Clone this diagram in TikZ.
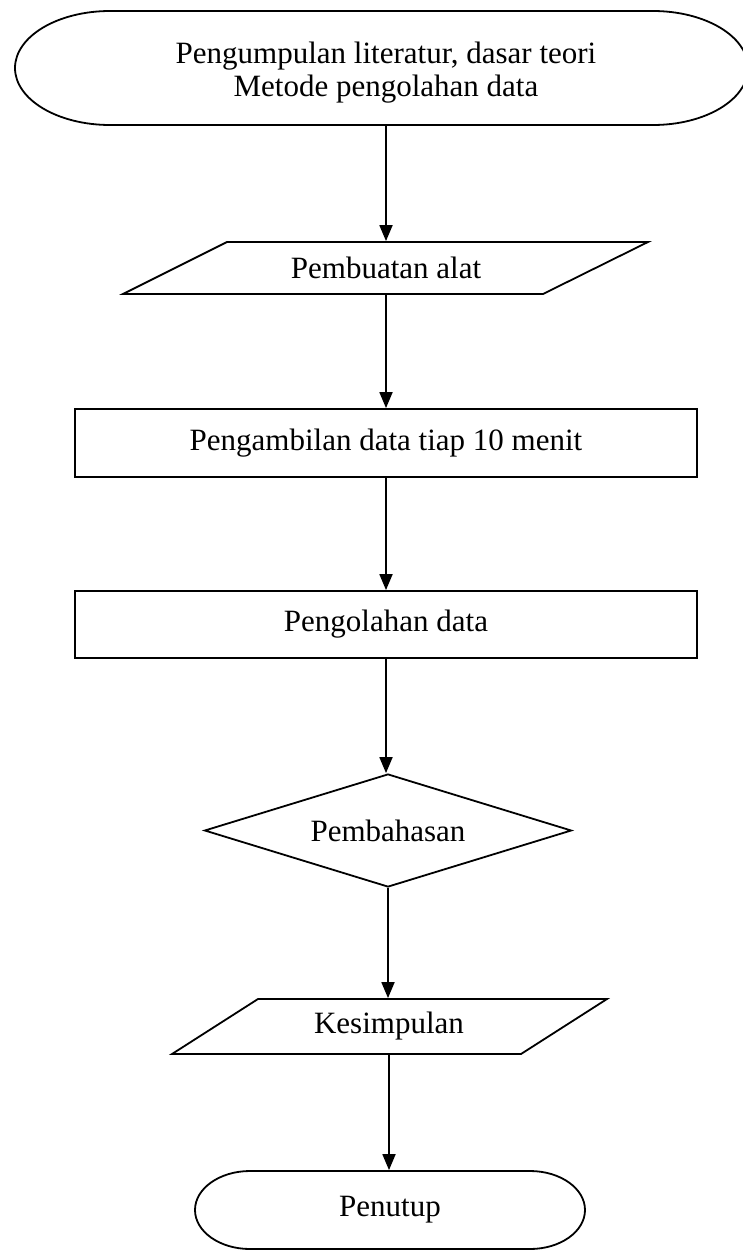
\documentclass[tikz,border=0pt]{standalone}
\usepackage{fontspec}
\setmainfont{Liberation Serif}
\usetikzlibrary{shapes.geometric,arrows.meta}

\begin{document}
\begin{tikzpicture}[x=1pt,y=1pt,
  line width=1.8pt,
  every node/.style={font=\fontsize{31}{33}\selectfont, inner sep=0pt},
  box/.style={draw, rectangle, minimum width=622pt, minimum height=67pt},
  ghost/.style={rectangle, align=center},
  decide/.style={draw, diamond, minimum width=367pt, minimum height=113pt, aspect=3.25},
  flow/.style={-{Triangle[length=16pt,width=13pt]}}
]
\useasboundingbox (0,0) rectangle (743,-1250);

% start terminal
\node[ghost, minimum width=733pt, minimum height=104pt] (start) at (386,-73)
  {Pengumpulan literatur, dasar teori\\Metode pengolahan data};
\draw (110,-11) -- (653,-11) arc[start angle=90,end angle=-90,x radius=95,y radius=57]
  -- (110,-125) arc[start angle=270,end angle=90,x radius=95,y radius=57] -- cycle;

% Pembuatan alat (parallelogram)
\node[ghost, minimum width=420pt, minimum height=52pt] (alat) at (386,-268) {Pembuatan alat};
\draw (227,-242) -- (648,-242) -- (543,-294) -- (123,-294) -- cycle;

% Pengambilan data
\node[box, minimum height=68pt] (ambil) at (386,-443) {Pengambilan data tiap 10 menit};

% Pengolahan data
\node[box] (olah) at (386,-624.5) {Pengolahan data};

% Pembahasan
\node[decide] (bahas) at (388,-830.5) {Pembahasan};

% Kesimpulan (parallelogram)
\node[ghost, minimum width=349pt, minimum height=55pt] (kes) at (389,-1026.5) {Kesimpulan};
\draw (258,-999) -- (607,-999) -- (521,-1054) -- (172,-1054) -- cycle;

% Penutup terminal
\node[ghost, minimum width=390pt, minimum height=78pt] (tutup) at (390,-1210) {Penutup};
\draw (250,-1171) -- (530,-1171) arc[start angle=90,end angle=-90,x radius=55,y radius=39]
  -- (250,-1249) arc[start angle=270,end angle=90,x radius=55,y radius=39] -- cycle;

% connectors
\draw[flow] (start.south) -- (start.south |- alat.north);
\draw[flow] (alat.south) -- (alat.south |- ambil.north);
\draw[flow] (ambil.south) -- (ambil.south |- olah.north);
\draw[flow] (olah.south) -- (olah.south |- bahas.north);
\draw[flow] (bahas.south) -- (bahas.south |- kes.north);
\draw[flow] (kes.south) -- (kes.south |- tutup.north);
\end{tikzpicture}
\end{document}
